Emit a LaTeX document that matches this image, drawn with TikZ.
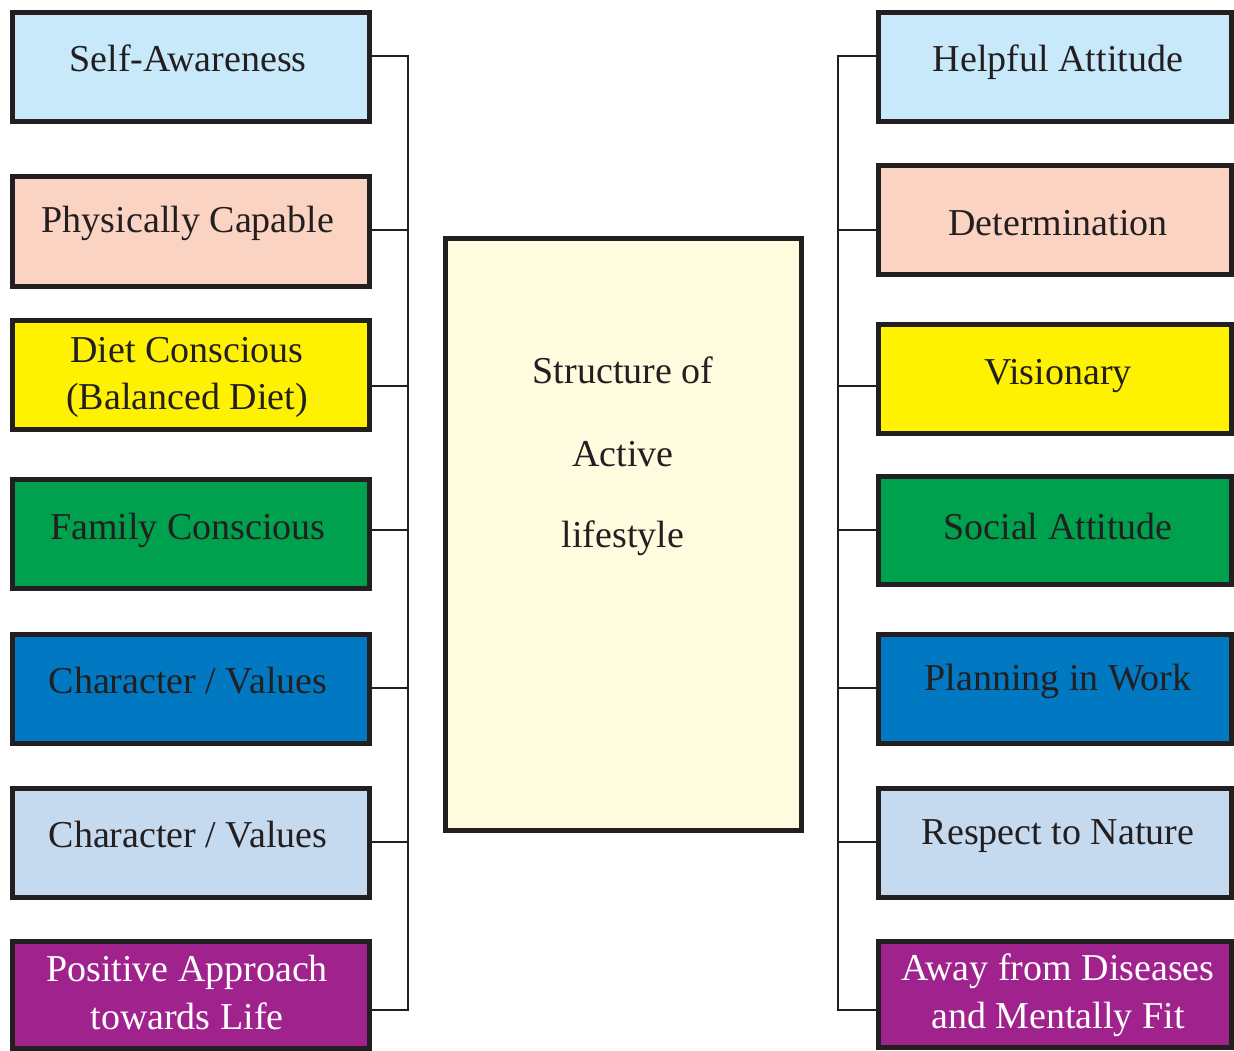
\documentclass[tikz,border=0pt]{standalone}
\usepackage{fontspec}
\setmainfont{Liberation Serif}
\definecolor{bord}{HTML}{231F20}
\definecolor{cLB}{HTML}{C7E9F9}
\definecolor{cPe}{HTML}{FBD3C2}
\definecolor{cYe}{HTML}{FFF200}
\definecolor{cGr}{HTML}{00A14E}
\definecolor{cBl}{HTML}{0079C2}
\definecolor{cSt}{HTML}{C6DAEF}
\definecolor{cPu}{HTML}{A0228D}
\definecolor{cCr}{HTML}{FEFBDE}
\tikzset{
  box/.style={draw=bord, line width=5pt, inner sep=0pt, rectangle},
  lbox/.style={box, minimum width=357pt},
  rbox/.style={box, minimum width=353pt},
  lbl/.style={anchor=base, font=\fontsize{38}{42}\selectfont, text=bord, inner sep=0pt},
  wlbl/.style={lbl, text=white},
  conn/.style={draw=bord, line width=2pt}
}
\begin{document}
\begin{tikzpicture}[x=1pt,y=-1pt]
\useasboundingbox (0,0) rectangle (1234,1050);
% left boxes
\node[lbox, fill=cLB, minimum height=109pt] (L1) at (191,67) {};
\node[lbox, fill=cPe, minimum height=110pt] (L2) at (191,231.5) {};
\node[lbox, fill=cYe, minimum height=109pt] (L3) at (191,375) {};
\node[lbox, fill=cGr, minimum height=109pt] (L4) at (191,534) {};
\node[lbox, fill=cBl, minimum height=109pt] (L5) at (191,689) {};
\node[lbox, fill=cSt, minimum height=109pt] (L6) at (191,843) {};
\node[lbox, fill=cPu, minimum height=107pt] (L7) at (191,995) {};
% right boxes
\node[rbox, fill=cLB, minimum height=109pt] (R1) at (1055,67) {};
\node[rbox, fill=cPe, minimum height=109pt] (R2) at (1055,220) {};
\node[rbox, fill=cYe, minimum height=109pt] (R3) at (1055,379) {};
\node[rbox, fill=cGr, minimum height=108pt] (R4) at (1055,530.5) {};
\node[rbox, fill=cBl, minimum height=109pt] (R5) at (1055,689) {};
\node[rbox, fill=cSt, minimum height=109pt] (R6) at (1055,843) {};
\node[rbox, fill=cPu, minimum height=106pt] (R7) at (1055,994.5) {};
% centre box
\node[box, fill=cCr, minimum width=356pt, minimum height=592pt] (C) at (623.5,534.5) {};
% texts
\node[lbl] (tL1) at (188,71) {Self-Awareness};
\node[lbl] (tL2) at (188,232) {Physically Capable};
\node[lbl] (tL3a) at (187,362) {Diet Conscious};
\node[lbl] (tL3b) at (187,409) {(Balanced Diet)};
\node[lbl] (tL4) at (188,539) {Family Conscious};
\node[lbl] (tL5) at (188,693) {Character / Values};
\node[lbl] (tL6) at (188,847) {Character / Values};
\node[wlbl] (tL7a) at (187,981) {Positive Approach};
\node[wlbl] (tL7b) at (187,1029) {towards Life};
\node[lbl] (tR1) at (1058,71) {Helpful Attitude};
\node[lbl] (tR2) at (1058,235) {Determination};
\node[lbl] (tR3) at (1058,384) {Visionary};
\node[lbl] (tR4) at (1058,539) {Social Attitude};
\node[lbl] (tR5) at (1058,690) {Planning in Work};
\node[lbl] (tR6) at (1058,844) {Respect to Nature};
\node[wlbl] (tR7a) at (1058,980) {Away from Diseases};
\node[wlbl] (tR7b) at (1058,1028) {and Mentally Fit};
\node[lbl] (tC1) at (623,383) {Structure of};
\node[lbl] (tC2) at (623,466) {Active};
\node[lbl] (tC3) at (623,547) {lifestyle};
% spine coordinates
\coordinate (sL1) at (408,56);
\coordinate (sL2) at (408,230);
\coordinate (sL3) at (408,386);
\coordinate (sL4) at (408,530);
\coordinate (sL5) at (408,688);
\coordinate (sL6) at (408,842);
\coordinate (sL7) at (408,1010);
\coordinate (sR1) at (838,56);
\coordinate (sR2) at (838,230);
\coordinate (sR3) at (838,386);
\coordinate (sR4) at (838,530);
\coordinate (sR5) at (838,688);
\coordinate (sR6) at (838,842);
\coordinate (sR7) at (838,1010);
\draw[conn] (sL1 -| L1.east) -- (sL1) -- (sL7) -- (sL7 -| L7.east);
\foreach \i in {2,...,6} \draw[conn] (sL\i -| L\i.east) -- (sL\i);
\draw[conn] (sR1 -| R1.west) -- (sR1) -- (sR7) -- (sR7 -| R7.west);
\foreach \i in {2,...,6} \draw[conn] (sR\i -| R\i.west) -- (sR\i);
\end{tikzpicture}
\end{document}
